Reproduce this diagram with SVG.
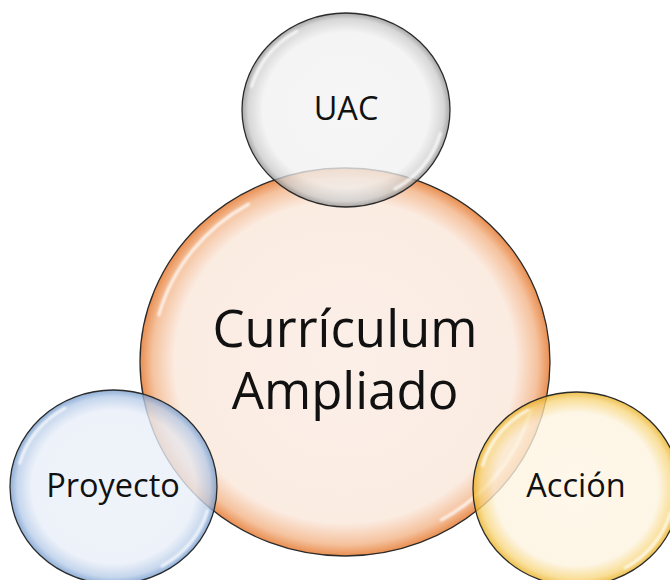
<svg xmlns="http://www.w3.org/2000/svg" width="670" height="580" viewBox="0 0 670 580">
<style>
.lbl{font-family:"Open Sans","Noto Sans","DejaVu Sans",sans-serif;fill:#111;text-anchor:middle}
.sm{font-size:32.5px}
.big{font-size:51px}
.rim{stroke:#2b2b2b;stroke-width:1.3}
.hl{fill:none;stroke:#fff;stroke-width:3;stroke-linecap:round;opacity:0.8}
</style>
<defs>
<radialGradient id="gMain" cx="0.5" cy="0.5" r="0.5">
<stop offset="0" stop-color="#FBEFE8"/>
<stop offset="0.83" stop-color="#FBECE2"/>
<stop offset="0.94" stop-color="#F5C29E"/>
<stop offset="1" stop-color="#E98E50"/>
</radialGradient>
<radialGradient id="gUac" cx="0.5" cy="0.5" r="0.5">
<stop offset="0" stop-color="#F3F3F3"/>
<stop offset="0.8" stop-color="#F1F1F1"/>
<stop offset="0.94" stop-color="#CCCCCC"/>
<stop offset="1" stop-color="#8E8E8E"/>
</radialGradient>
<radialGradient id="gPro" cx="0.5" cy="0.5" r="0.5">
<stop offset="0" stop-color="#EBF0F8"/>
<stop offset="0.79" stop-color="#E8EEF8"/>
<stop offset="0.93" stop-color="#B6CBE8"/>
<stop offset="1" stop-color="#6F98CC"/>
</radialGradient>
<radialGradient id="gAcc" cx="0.5" cy="0.5" r="0.5">
<stop offset="0" stop-color="#FEF6E6"/>
<stop offset="0.79" stop-color="#FDF3DE"/>
<stop offset="0.93" stop-color="#F7D57A"/>
<stop offset="1" stop-color="#E9AE1E"/>
</radialGradient>
<filter id="soft" x="-20%" y="-20%" width="140%" height="140%"><feGaussianBlur stdDeviation="0.8"/></filter>
</defs>

<g id="connectors"></g>

<g id="node-main">
<ellipse cx="345" cy="362" rx="205" ry="194" fill="url(#gMain)" class="rim"/>
<path class="hl" filter="url(#soft)" d="M158.9,314.9 A192.7,182.4 0 0 1 248.6,204.1 M531.1,409.1 A192.7,182.4 0 0 1 441.4,519.9"/>
<text class="lbl big"><tspan x="345" y="347">Currículum</tspan><tspan x="345" y="409">Ampliado</tspan></text>
</g>

<g id="node-uac">
<ellipse cx="346" cy="110" rx="104" ry="97" fill="url(#gUac)" fill-opacity="0.78" class="rim"/>
<path class="hl" filter="url(#soft)" d="M251.6,86.4 A97.8,91.2 0 0 1 297.1,31 M440.4,133.6 A97.8,91.2 0 0 1 394.9,189"/>
<text class="lbl sm" x="346" y="120">UAC</text>
</g>

<g id="node-proyecto">
<ellipse cx="113.5" cy="487" rx="103.5" ry="97" fill="url(#gPro)" fill-opacity="0.78" class="rim"/>
<path class="hl" filter="url(#soft)" d="M19.5,463.4 A97.3,91.2 0 0 1 64.9,408 M207.5,510.6 A97.3,91.2 0 0 1 162.1,566"/>
<text class="lbl sm" x="113" y="497">Proyecto</text>
</g>

<g id="node-accion">
<ellipse cx="576.5" cy="489" rx="103.5" ry="97" fill="url(#gAcc)" fill-opacity="0.78" class="rim"/>
<path class="hl" filter="url(#soft)" d="M482.5,465.4 A97.3,91.2 0 0 1 527.9,410 M670.5,512.6 A97.3,91.2 0 0 1 625.1,568"/>
<text class="lbl sm" x="576" y="497">Acción</text>
</g>
</svg>
